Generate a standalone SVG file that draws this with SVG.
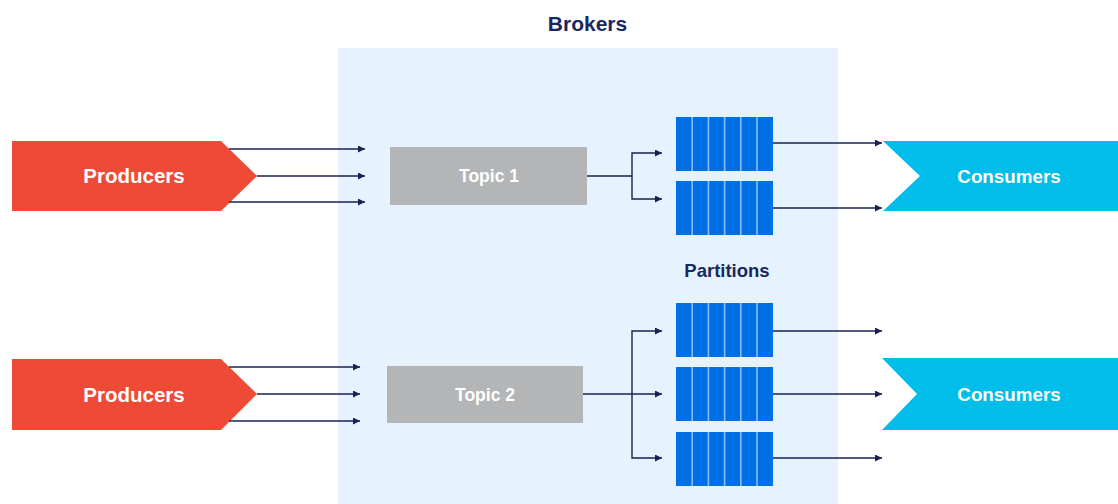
<svg xmlns="http://www.w3.org/2000/svg" width="1118" height="504" viewBox="0 0 1118 504">
<defs>
<marker id="arr" markerUnits="userSpaceOnUse" markerWidth="8" markerHeight="7" refX="7" refY="3.5" orient="auto">
<path d="M0,0 L7,3.5 L0,7 z" fill="#1b2052"/>
</marker>
<g id="cells">
<rect x="0" y="0" width="97" height="54" fill="#0070e6"/>
<path d="M16.2,0V54M32.4,0V54M48.6,0V54M64.8,0V54M81,0V54" stroke="#8cbdf2" stroke-width="1.6"/>
</g>
</defs>
<style>
.lbl{font-family:"Liberation Sans",Arial,sans-serif;font-weight:bold;text-anchor:middle}
.w{fill:#ffffff}
.n{fill:#1a2860}
.c{fill:none;stroke:#1b2052;stroke-width:1.4}
</style>
<rect width="1118" height="504" fill="#ffffff"/>
<g id="brokers">
<rect x="338" y="48" width="500" height="456" fill="#e6f2fe"/>
<text class="lbl n" x="587.5" y="31" font-size="21">Brokers</text>
</g>
<g id="producers1">
<polygon points="12,141 221,141 257,176 221,211 12,211" fill="#ee4a35"/>
<text class="lbl w" x="134" y="183" font-size="20.5">Producers</text>
</g>
<g id="producers2">
<polygon points="12,359 221,359 257,394 221,430 12,430" fill="#ee4a35"/>
<text class="lbl w" x="134" y="401.5" font-size="20.5">Producers</text>
</g>
<g id="topic1">
<rect x="390" y="147" width="197" height="58" fill="#b3b5b6"/>
<text class="lbl w" x="489" y="182" font-size="17.5">Topic 1</text>
</g>
<g id="topic2">
<rect x="387" y="366" width="196" height="57" fill="#b3b5b6"/>
<text class="lbl w" x="485" y="400.5" font-size="17.5">Topic 2</text>
</g>
<g id="partitions">
<text class="lbl n" x="727" y="277" font-size="18.5">Partitions</text>
<use href="#cells" x="676" y="117"/>
<use href="#cells" x="676" y="181"/>
<use href="#cells" x="676" y="303"/>
<use href="#cells" x="676" y="367"/>
<use href="#cells" x="676" y="432"/>
</g>
<g id="consumers1">
<polygon points="883,141 1118,141 1118,211 883,211 920,176" fill="#00bde9"/>
<text class="lbl w" x="1009" y="183" font-size="18.8">Consumers</text>
</g>
<g id="consumers2">
<polygon points="882,358 1118,358 1118,430 882,430 917,394" fill="#00bde9"/>
<text class="lbl w" x="1009" y="400.5" font-size="18.8">Consumers</text>
</g>
<g id="connectors">
<path class="c" d="M229,149H365" marker-end="url(#arr)"/>
<path class="c" d="M257,176H365" marker-end="url(#arr)"/>
<path class="c" d="M229,202H365" marker-end="url(#arr)"/>
<path class="c" d="M229,367H360" marker-end="url(#arr)"/>
<path class="c" d="M257,394H360" marker-end="url(#arr)"/>
<path class="c" d="M229,421H360" marker-end="url(#arr)"/>
<path class="c" d="M587,176H632"/>
<path class="c" d="M632,176V153H662" marker-end="url(#arr)"/>
<path class="c" d="M632,176V199H662" marker-end="url(#arr)"/>
<path class="c" d="M583,394H662" marker-end="url(#arr)"/>
<path class="c" d="M632,394V331H662" marker-end="url(#arr)"/>
<path class="c" d="M632,394V458H662" marker-end="url(#arr)"/>
<path class="c" d="M773,143H882" marker-end="url(#arr)"/>
<path class="c" d="M773,208H882" marker-end="url(#arr)"/>
<path class="c" d="M773,331H882" marker-end="url(#arr)"/>
<path class="c" d="M773,394H882" marker-end="url(#arr)"/>
<path class="c" d="M773,458H882" marker-end="url(#arr)"/>
</g>
</svg>
